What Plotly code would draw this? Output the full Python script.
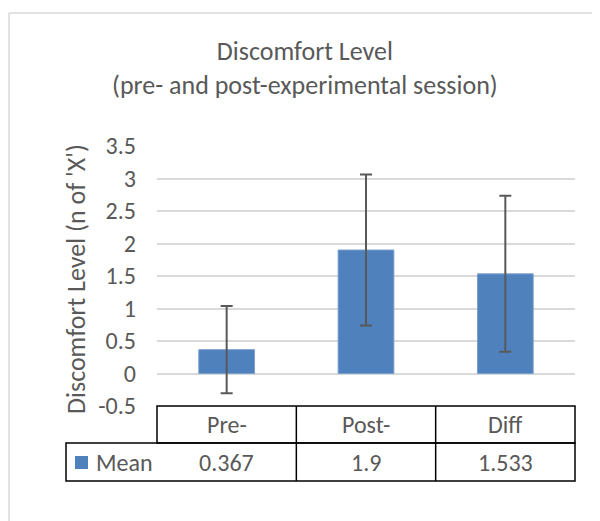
import plotly.graph_objects as go

categories = ["Pre-", "Post-", "Diff"]
means = [0.367, 1.9, 1.533]
mean_labels = ["0.367", "1.9", "1.533"]
errors = [0.67, 1.16, 1.2]
series_name = "Mean"
y_ticks = [-0.5, 0, 0.5, 1, 1.5, 2, 2.5, 3, 3.5]

FONT = "Carlito, Lato, Noto Sans, sans-serif"
TXT = "#595959"
BAR = "#4f81bd"

# page body has an 8px default margin; size the figure to fill the rest
OFF = 8
SW, SH = 600, 521
W, H = SW - OFF, SH - OFF
# plot area in screen pixels
PX0, PX1, PY0, PY1 = 157, 575, 146, 406
L, R, T, B = PX0 - OFF, W - (PX1 - OFF), PY0 - OFF, H - (PY1 - OFF)
pw, ph = PX1 - PX0, PY1 - PY0

def py(y):  # screen pixel y -> paper y
    return (PY1 - y) / ph

def px(x):  # screen pixel x -> paper x
    return (x - PX0) / pw

fig = go.Figure()
fig.add_trace(go.Bar(
    x=categories, y=means, width=0.4, name=series_name,
    marker=dict(color=BAR, line=dict(color="#7aa0d0", width=1)),
    error_y=dict(type="data", array=errors, visible=True,
                 color="#595959", thickness=2, width=6),
    showlegend=False,
))

shapes = []
r0, r1, r2 = py(406), py(443), py(481)
xl = px(66)
line = dict(color="#000000", width=1.5)
shapes.append(dict(type="rect", xref="paper", yref="paper", x0=0, x1=1, y0=r1, y1=r0, line=line))
shapes.append(dict(type="rect", xref="paper", yref="paper", x0=xl, x1=1, y0=r2, y1=r1, line=line))
n = len(categories)
for i in range(1, n):
    xp = i / n
    shapes.append(dict(type="line", xref="paper", yref="paper", x0=xp, x1=xp, y0=r2, y1=r0, line=line))
shapes.append(dict(type="rect", xref="paper", yref="paper", x0=px(75), x1=px(88),
                   y0=py(469), y1=py(456), fillcolor=BAR, line=dict(width=0)))
border = dict(color="#d9d9d9", width=1.5)
shapes.append(dict(type="line", xref="paper", yref="paper", x0=px(9), x1=px(610),
                   y0=py(13), y1=py(13), line=border))
shapes.append(dict(type="line", xref="paper", yref="paper", x0=px(9), x1=px(9),
                   y0=py(13), y1=py(530), line=border))

annotations = []
cell_font = dict(family=FONT, size=24, color=TXT)
for i, (c, v) in enumerate(zip(categories, mean_labels)):
    xc = (i + 0.5) / n
    annotations.append(dict(x=xc, y=(r0 + r1) / 2, xref="paper", yref="paper", text=c,
                            xanchor="center", yanchor="middle", showarrow=False, font=cell_font))
    annotations.append(dict(x=xc, y=(r1 + r2) / 2, xref="paper", yref="paper", text=v,
                            xanchor="center", yanchor="middle", showarrow=False, font=cell_font))
annotations.append(dict(x=px(94), y=(r1 + r2) / 2, xref="paper", yref="paper", text=series_name,
                        xanchor="left", yanchor="middle", showarrow=False, font=cell_font))
annotations.append(dict(x=px(76), y=py(279), xref="paper", yref="paper",
                        text="Discomfort Level (n of 'X')", textangle=-90, showarrow=False,
                        xanchor="center", yanchor="middle",
                        font=dict(family=FONT, size=26, color=TXT)))
annotations.append(dict(x=px(305), y=py(68), xref="paper", yref="paper",
                        text="Discomfort Level<br>(pre- and post-experimental session)",
                        xanchor="center", yanchor="middle", showarrow=False,
                        font=dict(family=FONT, size=26, color=TXT)))

fig.update_layout(
    width=W, height=H,
    margin=dict(l=L, r=R, t=T, b=B),
    paper_bgcolor="white", plot_bgcolor="white",
    shapes=shapes, annotations=annotations,
    xaxis=dict(showticklabels=False, showgrid=False, zeroline=False, showline=False,
               range=[-0.5, 2.5]),
    yaxis=dict(range=[-0.5, 3.5], tickvals=y_ticks, ticktext=[f"{t:g}" for t in y_ticks],
               showgrid=True, gridcolor="#d9d9d9", gridwidth=1.5,
               zeroline=True, zerolinecolor="#d9d9d9", zerolinewidth=1.5,
               showline=False, ticklabelstandoff=20,
               tickfont=dict(family=FONT, size=24, color=TXT)),
)
fig.write_html("out.html")
